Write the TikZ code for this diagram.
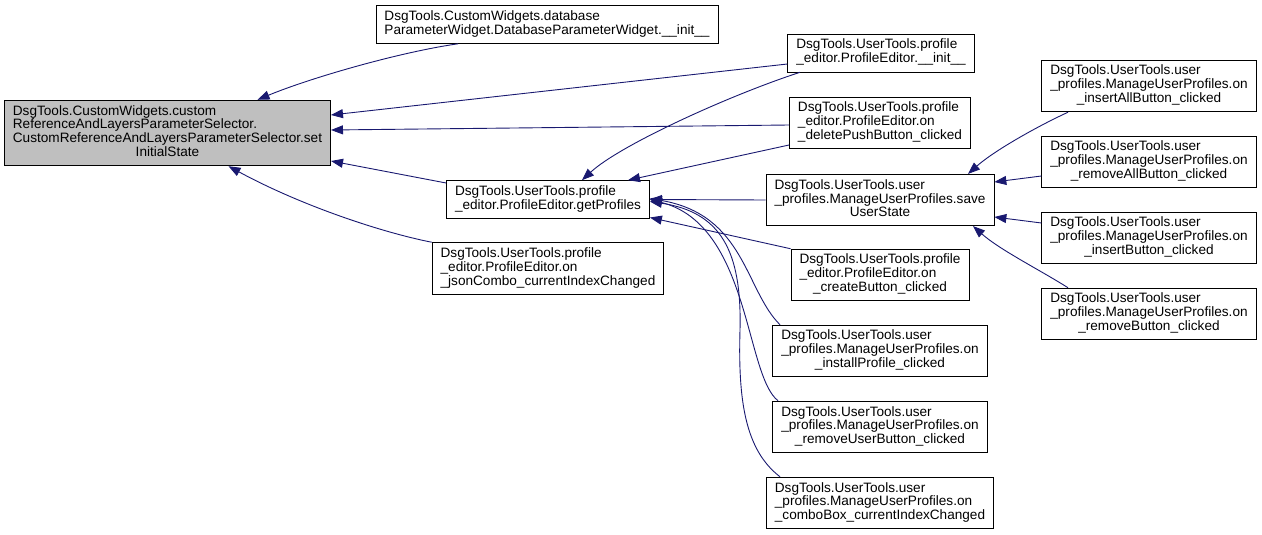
\documentclass[tikz,border=0pt]{standalone}
\usepackage{fontspec}
\setmainfont{Liberation Sans}
\usetikzlibrary{arrows.meta}
\definecolor{edgeblue}{HTML}{191970}
\definecolor{maingray}{HTML}{BFBFBF}
\newcommand{\lbl}[2]{\begin{tabular}{@{}l@{}}#1\\\multicolumn{1}{@{}c@{}}{#2}\end{tabular}}
\tikzset{
  box/.style={draw=black, line width=0.8pt, fill=white, inner xsep=8.5pt, inner ysep=5pt,
    font=\fontsize{13.6}{13.5}\selectfont},
  mainbox/.style={box, fill=maingray},
  call/.style={draw=edgeblue, line width=0.9pt, -{Triangle[length=12pt,width=9pt]}},
}
\begin{document}
\begin{tikzpicture}[x=1pt,y=1pt]
\useasboundingbox (0,0) rectangle (1262,-535);
% nodes
\node[mainbox] (A) at (167.5,-133) {\lbl{DsgTools.CustomWidgets.custom\\ReferenceAndLayersParameterSelector.\\CustomReferenceAndLayersParameterSelector.set}{InitialState}};
\node[box] (B) at (547,-24.5) {\lbl{DsgTools.CustomWidgets.database}{ParameterWidget.DatabaseParameterWidget.\_\_init\_\_}};
\node[box] (C) at (881,-53) {\lbl{DsgTools.UserTools.profile}{\_editor.ProfileEditor.\_\_init\_\_}};
\node[box] (D) at (880,-123) {\lbl{DsgTools.UserTools.profile\\\_editor.ProfileEditor.on}{\_deletePushButton\_clicked}};
\node[box] (E) at (548,-199.5) {\lbl{DsgTools.UserTools.profile}{\_editor.ProfileEditor.getProfiles}};
\node[box] (F) at (548,-268.5) {\lbl{DsgTools.UserTools.profile\\\_editor.ProfileEditor.on}{\_jsonCombo\_currentIndexChanged}};
\node[box] (G) at (880,-200) {\lbl{DsgTools.UserTools.user\\\_profiles.ManageUserProfiles.save}{UserState}};
\node[box] (H) at (880,-275) {\lbl{DsgTools.UserTools.profile\\\_editor.ProfileEditor.on}{\_createButton\_clicked}};
\node[box] (I) at (880,-351) {\lbl{DsgTools.UserTools.user\\\_profiles.ManageUserProfiles.on}{\_installProfile\_clicked}};
\node[box] (J) at (880,-427) {\lbl{DsgTools.UserTools.user\\\_profiles.ManageUserProfiles.on}{\_removeUserButton\_clicked}};
\node[box] (K) at (880,-503) {\lbl{DsgTools.UserTools.user\\\_profiles.ManageUserProfiles.on}{\_comboBox\_currentIndexChanged}};
\node[box] (L) at (1149,-86) {\lbl{DsgTools.UserTools.user\\\_profiles.ManageUserProfiles.on}{\_insertAllButton\_clicked}};
\node[box] (M) at (1149,-162) {\lbl{DsgTools.UserTools.user\\\_profiles.ManageUserProfiles.on}{\_removeAllButton\_clicked}};
\node[box] (N) at (1149,-238) {\lbl{DsgTools.UserTools.user\\\_profiles.ManageUserProfiles.on}{\_insertButton\_clicked}};
\node[box] (O) at (1149,-314) {\lbl{DsgTools.UserTools.user\\\_profiles.ManageUserProfiles.on}{\_removeButton\_clicked}};
% edges into A
\draw[call] ([xshift=-89pt]B.south) .. controls (400,-52) and (310,-78) .. ([xshift=90pt]A.north);
\draw[call] ([yshift=-11pt]C.west) -- ([yshift=18pt]A.east);
\draw[call] ([yshift=-2pt]D.west) -- ([yshift=3pt]A.east);
\draw[call] ([yshift=16.5pt]E.west) -- ([yshift=-28pt]A.east);
\draw[call] (F.north west) .. controls (380,-232) and (300,-205) .. ([xshift=61pt]A.south);
% edges into E
\draw[call] ([xshift=-81pt]C.south) .. controls (730,-95) and (620,-145) .. ([xshift=34pt]E.north);
\draw[call] ([yshift=-22pt]D.west) -- ([xshift=80pt]E.north);
\draw[call] (G.west) -- (E.east);
\draw[call] (H.north west) -- ([yshift=-18pt]E.east);
\draw[call] ([xshift=-100pt]I.north) .. controls (745,-290) and (745,-215) .. ([yshift=1pt]E.east);
\draw[call] ([xshift=-102pt]J.north) .. controls (745,-375) and (750,-225) .. (E.east);
\draw[call] ([xshift=-100pt]K.north) .. controls (745,-450) and (738,-400) .. (740,-330) .. controls (742,-250) and (720,-212) .. ([yshift=-2pt]E.east);
% edges into G
\draw[call] ([xshift=-81pt]L.south) .. controls (1040,-125) and (995,-150) .. ([xshift=88pt]G.north);
\draw[call] ([yshift=-14pt]M.west) -- ([yshift=18pt]G.east);
\draw[call] ([yshift=15pt]N.west) -- ([yshift=-17pt]G.east);
\draw[call] ([xshift=-81pt]O.north) .. controls (1040,-270) and (1000,-250) .. ([xshift=93pt]G.south);
\end{tikzpicture}
\end{document}
